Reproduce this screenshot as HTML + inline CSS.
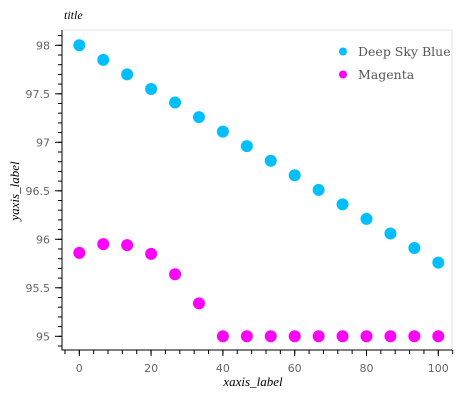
<!DOCTYPE html>
<html><head><meta charset="utf-8"><style>
body{margin:0;background:#fff}
svg text{font-family:"DejaVu Sans","Liberation Sans",sans-serif}
</style></head><body>
<svg width="461" height="400" id="c">
<rect x="62" y="30" width="390" height="320" fill="none" stroke="#e6e6e6"/>
<text x="64" y="19" font-size="12" font-style="italic" style="font-family:'Liberation Serif',serif">title</text>
<text x="253" y="386" font-size="13" font-style="italic" text-anchor="middle" style="font-family:'Liberation Serif',serif">xaxis_label</text>
<text transform="translate(19,191) rotate(-90)" font-size="13" font-style="italic" text-anchor="middle" style="font-family:'Liberation Serif',serif">yaxis_label</text>
<g>
<circle cx="343" cy="51.5" r="4" fill="#00bfff"/>
<text x="358" y="56" font-size="12.5" fill="#555" style="font-family:'DejaVu Serif',serif">Deep Sky Blue</text>
<circle cx="343" cy="74.5" r="4" fill="#ff00ff"/>
<text x="358" y="79" font-size="12.5" fill="#555" style="font-family:'DejaVu Serif',serif">Magenta</text>
</g>
<g id="axes"></g><g id="marks"></g>
</svg>
<script>
const xs=[0,6.67,13.33,20,26.67,33.33,40,46.67,53.33,60,66.67,73.33,80,86.67,93.33,100];
const blue=[98,97.85,97.70,97.55,97.41,97.26,97.11,96.96,96.81,96.66,96.51,96.36,96.21,96.06,95.91,95.76];
const magenta=[95.86,95.95,95.94,95.85,95.64,95.34,95,95,95,95,95,95,95,95,95,95];
const xTicks=[0,20,40,60,80,100];
const yTicks=[95,95.5,96,96.5,97,97.5,98];
const X=v=>79.3+v*3.59;
const Y=v=>336.3-(v-95)*97;
const NS="http://www.w3.org/2000/svg";
const ax=document.getElementById('axes'),mk=document.getElementById('marks');
function mkEl(t,a,p){const e=document.createElementNS(NS,t);for(const k in a)e.setAttribute(k,a[k]);p.appendChild(e);return e;}
const yl=mkEl('line',{x1:62,x2:62,y1:30,y2:350.5,stroke:'#000'},ax);


const xl=mkEl('line',{x1:61.5,x2:452,y1:350,y2:350,stroke:'#000'},ax);


for(let v=-4;v<=104;v+=4){mkEl('line',{x1:X(v),x2:X(v),y1:350,y2:354,stroke:'#000'},ax);}
for(let v=94.9;v<=98.11;v+=0.1){mkEl('line',{x1:58,x2:62,y1:Y(v),y2:Y(v),stroke:'#000'},ax);}
xTicks.forEach(v=>{mkEl('line',{x1:X(v),x2:X(v),y1:350,y2:356,stroke:'#000'},ax);
const t=mkEl('text',{x:X(v),y:372,'font-size':11,fill:'#666','text-anchor':'middle'},ax);t.textContent=v;

});
yTicks.forEach(v=>{mkEl('line',{x1:55,x2:62,y1:Y(v),y2:Y(v),stroke:'#000'},ax);
const t=mkEl('text',{x:50,y:Y(v)+4,'font-size':11,fill:'#666','text-anchor':'end'},ax);t.textContent=v;

});
xs.forEach((x,i)=>{
const b=mkEl('circle',{cx:X(x),cy:Y(blue[i]),r:6,fill:'#00bfff'},mk);


const m=mkEl('circle',{cx:X(x),cy:Y(magenta[i]),r:6,fill:'#ff00ff'},mk);

});
</script>
</body></html>
